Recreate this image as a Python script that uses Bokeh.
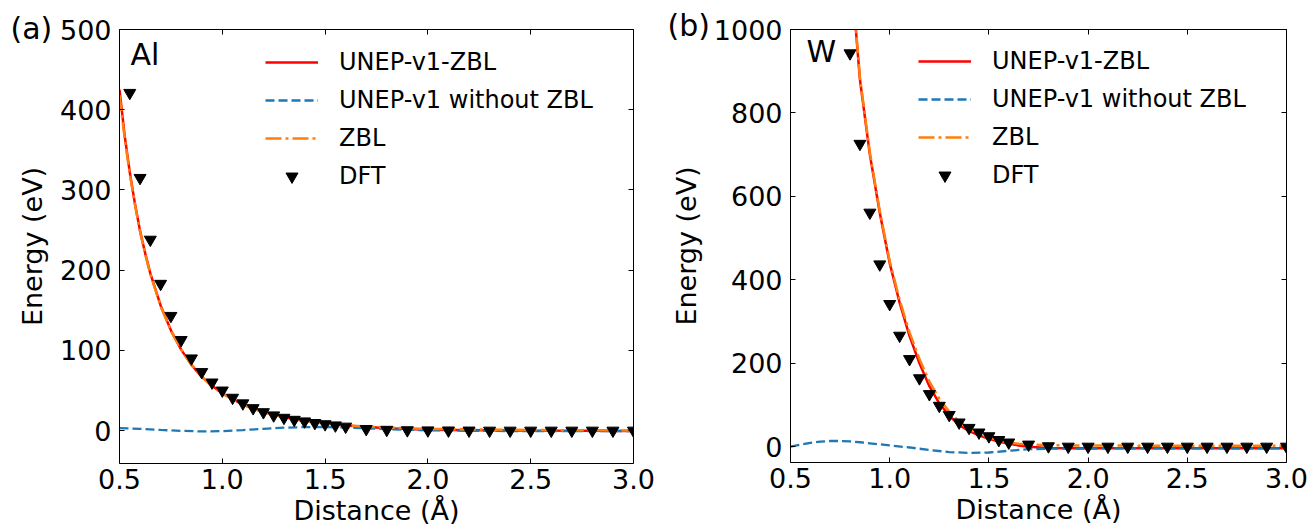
from bokeh.plotting import figure
from bokeh.layouts import row
from bokeh.core.properties import value
from bokeh.models import (Range1d, FixedTicker, LinearAxis, Label, Legend, LegendItem,
                          PrintfTickFormatter, CustomJSTickFormatter)
from bokeh.embed import file_html
from bokeh.resources import INLINE

FONT = "DejaVu Sans"
RED = "#ff0000"
BLUE = "#1f77b4"
ORANGE = "#ff7f0e"

# ---------------- Al ----------------
al_r = [0.500, 0.525, 0.550, 0.575, 0.600, 0.625, 0.650, 0.700, 0.750, 0.800, 0.850,
        0.900, 0.950, 1.000, 1.100, 1.200, 1.300, 1.400, 1.500, 1.600, 1.800, 2.000,
        2.500, 3.000]
al_unep_zbl = [425, 368, 322, 283, 249, 221, 196, 156, 125, 101, 82,
               67, 56, 46.5, 32.5, 23.2, 16.8, 12.2, 9.0, 6.5, 3.0, 1.2,
               0.0, -0.5]
al_zbl = [418, 365, 320, 282, 248, 220, 195, 155, 124.5, 101, 82,
          67.3, 55.6, 46.1, 32.1, 22.8, 16.4, 11.9, 8.8, 6.6, 3.8, 2.2,
          0.7, 0.2]

al_nep_r = [0.5, 0.6, 0.7, 0.8, 0.9, 1.0, 1.1, 1.2, 1.3, 1.4, 1.5, 1.6, 1.7, 1.8,
            1.9, 2.0, 2.2, 2.5, 3.0]
al_nep = [3.2, 2.2, 0.8, -0.3, -1.0, -0.6, 0.6, 2.2, 3.6, 4.4, 4.5, 3.8, 2.8, 1.8,
          1.0, 0.4, -0.3, -0.6, -0.5]

al_dft_r = [0.55, 0.60, 0.65, 0.70, 0.75, 0.80, 0.85, 0.90, 0.95, 1.00, 1.05, 1.10,
            1.15, 1.20, 1.25, 1.30, 1.35, 1.40, 1.45, 1.50, 1.55, 1.60,
            1.7, 1.8, 1.9, 2.0, 2.1, 2.2, 2.3, 2.4, 2.5, 2.6, 2.7, 2.8, 2.9, 3.0]
al_dft = [421, 315, 238, 183, 143, 113, 90, 73, 60, 50, 41, 34,
          28, 23, 19, 16, 13.5, 11.5, 9.5, 8.0, 6.5, 5.0,
          2.0, 1.0, 0.5, 0.3, 0.2, 0.1, 0, 0, 0, 0, 0, 0, 0, 0]

# ---------------- W ----------------
w_r = [0.80, 0.85, 0.90, 0.95, 1.00, 1.05, 1.10, 1.15, 1.20, 1.25, 1.30, 1.35, 1.40,
       1.45, 1.50, 1.55, 1.60, 1.65, 1.70, 1.80, 1.90, 2.00, 2.20, 2.50, 3.00]
w_unep_zbl = [1170, 880, 700, 560, 440, 345, 265, 200, 145, 104, 74, 52, 37,
              27, 19, 12, 7, 3, 0, -3, -4, -4, -4, -4, -4]
w_zbl = [1175, 885, 705, 565, 445, 352, 274, 210, 156, 115, 84, 60, 43,
         31, 22, 15, 10, 7, 5, 3.5, 3, 2.5, 2.5, 2, 2]

w_nep_r = [0.50, 0.55, 0.60, 0.65, 0.70, 0.75, 0.80, 0.85, 0.90, 0.95, 1.00, 1.10,
           1.20, 1.30, 1.40, 1.50, 1.60, 1.70, 1.80, 1.90, 2.00, 2.20, 2.50, 3.00]
w_nep = [0, 5, 9, 12, 13.5, 13.5, 12.5, 10.5, 8, 5.5, 3, -2,
         -8, -13, -15, -14, -10, -6, -5, -4.5, -4.5, -4, -4, -4]

w_dft_r = [0.80, 0.85, 0.90, 0.95, 1.00, 1.05, 1.10, 1.15, 1.20, 1.25, 1.30, 1.35,
           1.40, 1.45, 1.50, 1.55, 1.60,
           1.7, 1.8, 1.9, 2.0, 2.1, 2.2, 2.3, 2.4, 2.5, 2.6, 2.7, 2.8, 2.9, 3.0]
w_dft = [943, 726, 561, 437, 342, 266, 210, 164, 126, 98, 76, 58,
         45, 34, 25, 16, 10,
         5, 1, 0, 0, 0, 0, 0, 0, 0, 0, 0, 0, 0, 0]

x_ticks = [0.5, 1.0, 1.5, 2.0, 2.5, 3.0]
al_y_ticks = [0, 100, 200, 300, 400, 500]
w_y_ticks = [0, 200, 400, 600, 800, 1000]

labels = ["UNEP-v1-ZBL", "UNEP-v1 without ZBL", "ZBL", "DFT"]


def make_panel(border, frame, y_lim, y_ticks, series, tag, element, tag_offset,
               element_pos, legend_pos):
    left, right, top, bottom = border
    fw, fh = frame
    p = figure(frame_width=fw, frame_height=fh,
               min_border_left=left, min_border_right=right,
               min_border_top=top, min_border_bottom=bottom,
               x_range=Range1d(0.5, 3.0), y_range=Range1d(*y_lim),
               output_backend="svg", toolbar_location=None,
               background_fill_color="white", border_fill_color="white")
    p.outline_line_color = None
    p.grid.visible = False

    xt = FixedTicker(ticks=x_ticks)
    yt = FixedTicker(ticks=y_ticks)

    for ax, tk, fmt in ((p.xaxis[0], xt, PrintfTickFormatter(format="%.1f")),
                        (p.yaxis[0], yt, PrintfTickFormatter(format="%d"))):
        ax.ticker = tk
        ax.formatter = fmt
        ax.major_tick_in = 5
        ax.major_tick_out = 0
        ax.minor_tick_in = 0
        ax.minor_tick_out = 0
        ax.axis_line_color = "black"
        ax.major_tick_line_color = "black"
        ax.major_label_text_font = FONT
        ax.major_label_text_font_size = "27px"
        ax.major_label_text_color = "black"
        ax.axis_label_text_font = FONT
        ax.axis_label_text_font_size = "27px"
        ax.axis_label_text_font_style = "normal"
        ax.axis_label_text_color = "black"
    p.xaxis.axis_label = "Distance (Å)"
    p.yaxis.axis_label = "Energy (eV)"
    p.xaxis.major_label_standoff = 5
    p.xaxis.axis_label_standoff = 3
    p.yaxis.major_label_standoff = 8
    p.yaxis.axis_label_standoff = 9

    # mirrored inward ticks on the top and right spines
    for loc, tk in (("above", xt), ("right", yt)):
        ax = LinearAxis(ticker=tk, formatter=CustomJSTickFormatter(code="return ''"),
                        major_tick_in=5, major_tick_out=0,
                        minor_tick_in=0, minor_tick_out=0,
                        major_label_standoff=0, major_label_text_font_size="1px",
                        axis_line_color="black", major_tick_line_color="black")
        p.add_layout(ax, loc)

    (r_full, e_full), (r_nep, e_nep), (r_zbl, e_zbl), (r_dft, e_dft) = series
    g1 = p.line(r_full, e_full, line_color=RED, line_width=2.5)
    g2 = p.line(r_nep, e_nep, line_color=BLUE, line_width=2.3, line_dash="9 4")
    g3 = p.line(r_zbl, e_zbl, line_color=ORANGE, line_width=2.5, line_dash="16 4 3 4")
    g4 = p.scatter(r_dft, e_dft, marker="inverted_triangle", size=12,
                   fill_color="black", line_color="black")

    legend = Legend(items=[LegendItem(label=l, renderers=[g])
                           for l, g in zip(labels, (g1, g2, g3, g4))],
                    location=legend_pos, glyph_width=53, glyph_height=30,
                    label_height=30, label_standoff=21, spacing=8,
                    padding=0, margin=0, border_line_color=None,
                    background_fill_alpha=0,
                    label_text_font=FONT, label_text_font_size="24px",
                    label_text_color="black")
    p.add_layout(legend)

    # panel tag, anchored at the top-left corner of the axes and shifted into the margin
    p.text(x=[0.5], y=[y_lim[1]], text=[tag], x_offset=tag_offset[0],
           y_offset=tag_offset[1], text_font=value(FONT), text_font_size="30px",
           text_baseline="alphabetic", text_align="left", text_color="black",
           level="overlay")

    p.add_layout(Label(x=element_pos[0], y=element_pos[1], x_units="screen",
                       y_units="screen", text=element, text_font=FONT,
                       text_font_size="30px", text_baseline="alphabetic",
                       text_color="black"))
    return p


p1 = make_panel((119, 22, 27, 70), (514, 434), (-41, 500), al_y_ticks,
                ((al_r, al_unep_zbl), (al_nep_r, al_nep), (al_r, al_zbl),
                 (al_dft_r, al_dft)),
                "(a)", "Al", (-109, -1), (11, 409), (146, 272))
p2 = make_panel((135, 24, 29, 69), (496, 433), (-38, 1000), w_y_ticks,
                ((w_r, w_unep_zbl), (w_nep_r, w_nep), (w_r, w_zbl),
                 (w_dft_r, w_dft)),
                "(b)", "W", (-123, -4), (16, 411), (128, 272))

layout = row(p1, p2, spacing=0)

with open("out.html", "w", encoding="utf-8") as f:
    f.write(file_html(layout, INLINE, title="Energy vs distance"))
